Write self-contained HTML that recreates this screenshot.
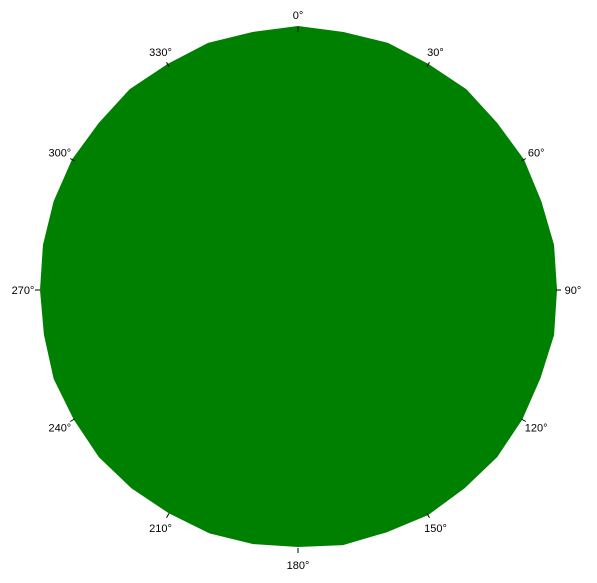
<!DOCTYPE html>
<html><head><meta charset="utf-8"><style>
body{margin:0;background:#fff;font-family:"Liberation Sans",sans-serif}
svg text{font-size:11px;fill:#000}
</style></head><body>
<svg id="chart" width="597" height="578" xmlns="http://www.w3.org/2000/svg">
<polygon id="area" fill="#008000"/>
<g id="axis"></g>
</svg>
<script>
const angles=[0,10,20,30,40,50,60,70,80,90,100,110,120,130,140,150,160,170,180,190,200,210,220,230,240,250,260,270,280,290,300,310,320,330,340,350];
const values=[264,262,263,261,262,260,261,259,260,259,260,258,259,260,259,260,258,259,257,258,259,258,259,260,259,260,258,258,259,260,261,260,262,261,263,262];
const tickLabels=["0°","30°","60°","90°","120°","150°","180°","210°","240°","270°","300°","330°"];
const tickAngles=[0,30,60,90,120,150,180,210,240,270,300,330];
const cx=298,cy=290,R=258;
function px(a,r){const t=a*Math.PI/180;return [cx+r*Math.sin(t),cy-r*Math.cos(t)];}
document.getElementById('area').setAttribute('points',angles.map((a,i)=>px(a,values[i]).join(',')).join(' '));
const g=document.getElementById('axis');const ns="http://www.w3.org/2000/svg";
tickAngles.forEach((a,i)=>{
 const [x1,y1]=px(a,R),[x2,y2]=px(a,R+5);
 const l=document.createElementNS(ns,'line');
 
 
 l.setAttribute('x1',x1);l.setAttribute('y1',y1);l.setAttribute('x2',x2);l.setAttribute('y2',y2);l.setAttribute('stroke','#000');
 g.appendChild(l);
 const [tx,ty]=px(a,R+17);
 const t=document.createElementNS(ns,'text');
 
 
 t.setAttribute('x',tx);t.setAttribute('y',ty+4);t.setAttribute('text-anchor','middle');
 t.textContent=tickLabels[i];g.appendChild(t);
});
</script>
</body></html>
